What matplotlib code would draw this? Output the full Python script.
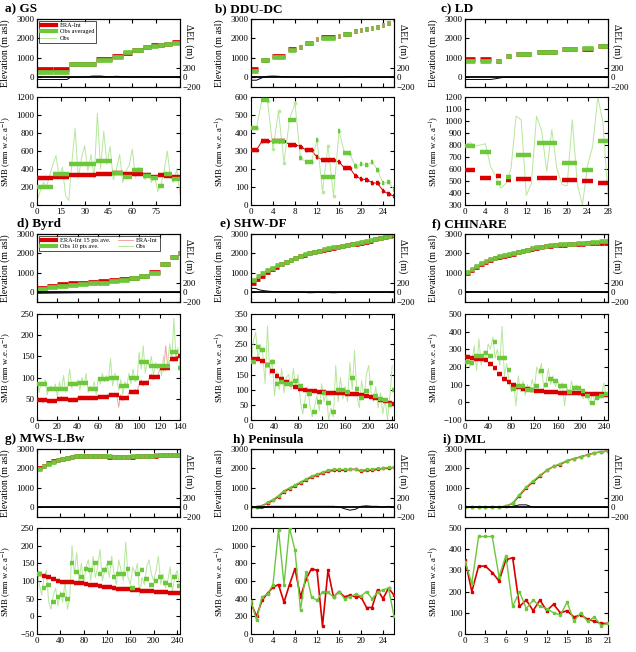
import matplotlib.pyplot as plt
from matplotlib.lines import Line2D

plt.rcParams['font.family'] = ['Liberation Serif', 'DejaVu Serif']
plt.rcParams['mathtext.fontset'] = 'stix'
plt.rcParams['font.size'] = 6.5
plt.rcParams['axes.linewidth'] = 0.8
plt.rcParams['xtick.direction'] = 'in'
plt.rcParams['ytick.direction'] = 'in'
plt.rcParams['xtick.major.size'] = 3
plt.rcParams['ytick.major.size'] = 3
plt.rcParams['xtick.major.pad'] = 2
plt.rcParams['ytick.major.pad'] = 2

RED = '#d80000'
GREEN = '#6cc83a'
LRED = '#f3a3a3'
LGREEN = '#b6e79c'

# ---------------- a) GS ----------------
a_gs = [0, 10, 20, 37, 47, 54, 60, 67, 72, 76, 80, 85]
a_ge = [10, 20, 37, 47, 54, 60, 67, 72, 76, 80, 85, 90]
a_era_smb = [305, 315, 335, 350, 355, 350, 340, 330, 315, 330, 320, 310]
a_obs_smb = [200, 340, 460, 490, 360, 310, 385, 320, 305, 215, 350, 285]
a_era_el = [430, 430, 690, 920, 1090, 1230, 1420, 1540, 1650, 1650, 1720, 1820]
a_obs_el = [270, 270, 660, 880, 1060, 1290, 1400, 1540, 1620, 1650, 1700, 1780]
a_obs_x = list(range(0, 91, 2))
a_obs_y = [50, 150, 250, 200, 330, 450, 550, 300, 420, 100,
           50, 480, 850, 300, 520, 660, 380, 560, 300, 1020,
           400, 820, 450, 650, 280, 400, 560, 250, 380, 440,
           620, 300, 420, 350, 280, 360, 250, 320, 150, 220,
           380, 600, 300, 250, 400, 120]
a_del_x = [0, 19, 21, 30, 35, 40, 45, 50, 60, 70, 80, 90]
a_del = [-45, -45, 0, 5, 25, 25, 10, 20, 5, 10, 0, 5]

# ---------------- b) DDU-DC ----------------
b_gs = [0, 2, 4, 7, 9, 10, 12, 13, 16, 17, 19, 20, 21, 22, 23, 24, 25, 26]
b_ge = [1, 3, 6, 8, 9, 11, 12, 15, 16, 18, 19, 20, 21, 22, 23, 24, 25, 26]
b_era_smb = [305, 355, 355, 335, 325, 305, 265, 250, 240, 205, 160, 145, 140, 125, 120, 80, 60, 50]
b_obs_smb = [430, 585, 355, 475, 260, 240, 360, 155, 410, 290, 215, 230, 220, 240, 195, 120, 130, 85]
b_era_el = [420, 900, 1080, 1450, 1550, 1750, 1950, 2050, 2100, 2250, 2400, 2420, 2470, 2540, 2600, 2680, 2800, 2980]
b_obs_el = [300, 880, 1060, 1430, 1550, 1740, 1950, 2040, 2100, 2230, 2390, 2420, 2460, 2530, 2600, 2670, 2800, 2980]
b_x = list(range(27))
b_obs_y = [430, 430, 585, 580, 310, 520, 235, 475, 565, 260, 240, 240, 360, 75,
           330, 50, 410, 290, 285, 210, 230, 220, 240, 195, 120, 130, 85]
b_era_y = [305, 305, 355, 355, 355, 355, 355, 335, 335, 325, 305, 305, 265, 250,
           250, 250, 240, 205, 205, 160, 145, 140, 125, 120, 80, 60, 50]
b_del_x = [0, 1, 2, 3, 4, 5, 6, 8, 10, 14, 17, 18, 19, 20, 26]
b_del = [-60, -60, -10, 20, 25, 20, 10, 5, 0, 0, 0, 15, 10, 0, 0]

# ---------------- c) LD ----------------
c_gs = [0, 3, 6, 8, 10, 14, 19, 23, 26]
c_ge = [2, 5, 7, 9, 13, 18, 22, 25, 28]
c_era_smb = [590, 525, 540, 510, 515, 525, 505, 500, 480]
c_obs_smb = [795, 740, 485, 530, 720, 820, 650, 590, 830]
c_era_el = [920, 920, 860, 1080, 1220, 1300, 1460, 1470, 1590]
c_obs_el = [820, 820, 860, 1080, 1220, 1300, 1460, 1510, 1590]
c_x = list(range(29))
c_obs_y = [800, 820, 790, 800, 810, 620, 540, 440, 480, 600, 1040, 1010, 380, 480,
           1040, 920, 580, 930, 600, 470, 460, 1010, 470, 300, 630, 790, 1200, 990, 380]
c_del_x = [0, 5, 6, 7, 8, 28]
c_del = [-45, -45, -30, -10, 0, 0]

# ---------------- d) Byrd ----------------
d_gs = [0, 10, 20, 30, 40, 50, 60, 70, 80, 90, 100, 110, 120, 130, 138]
d_ge = [10, 20, 30, 40, 50, 60, 70, 80, 90, 100, 110, 120, 130, 138, 140]
d_era_smb = [47, 45, 50, 47, 51, 53, 55, 59, 51, 67, 88, 102, 123, 145, 151]
d_obs_smb = [84, 73, 73, 86, 88, 74, 97, 100, 81, 98, 136, 127, 127, 160, 122]
d_era_el = [240, 340, 420, 455, 490, 510, 560, 610, 680, 760, 860, 1030, 1480, 1840, 2000]
d_obs_el = [150, 250, 340, 390, 430, 460, 500, 560, 630, 720, 820, 1000, 1450, 1820, 2000]
d_x = list(range(0, 141, 2))
d_obs_y = [100, 65, 90, 80, 95, 60, 75, 80, 70, 85, 55, 90, 70, 105, 65,
           80, 120, 75, 90, 85, 95, 70, 100, 80, 110, 65, 80, 70, 90, 60,
           100, 85, 110, 90, 105, 95, 145, 80, 110, 100, 70, 95, 60, 90, 80,
           110, 85, 120, 90, 95, 160, 120, 175, 110, 140, 125, 150, 105, 135, 120,
           130, 105, 150, 115, 135, 180, 140, 240, 150, 170, 120]
d_era_y = [60, 45, 50, 40, 48, 42, 48, 44, 46, 45, 52, 46, 55, 48, 50,
           45, 50, 46, 52, 44, 55, 48, 53, 50, 52, 50, 56, 52, 55, 54,
           58, 52, 57, 54, 56, 62, 56, 60, 58, 60, 30, 60, 45, 55, 50,
           65, 70, 62, 72, 68, 85, 95, 80, 92, 88, 100, 108, 95, 105, 102,
           118, 130, 115, 175, 125, 140, 150, 138, 155, 145, 150]
d_del_x = [0, 20, 40, 140]
d_del = [-20, -15, -10, -5]

# ---------------- e) SHW-DF ----------------
e_gs = list(range(0, 241, 8))
e_ge = list(range(8, 241, 8)) + [243]
e_era_smb = [201, 200, 195, 183, 163, 145, 135, 125, 118, 110, 103, 98, 97, 95, 94, 92,
             90, 88, 88, 88, 87, 86, 85, 83, 80, 77, 72, 67, 62, 57, 52]
e_obs_smb = [190, 240, 232, 180, 190, 120, 125, 118, 120, 130, 112, 45, 85, 28, 58, 90,
             55, 25, 98, 100, 92, 140, 102, 72, 97, 122, 80, 68, 65, 48, 100]
e_obs_el = [650, 850, 1010, 1150, 1270, 1380, 1480, 1580, 1680, 1780, 1870, 1950, 2020, 2090,
            2150, 2210, 2260, 2310, 2350, 2390, 2430, 2480, 2530, 2580, 2630, 2680, 2740, 2800,
            2860, 2920, 2980]
e_era_el = [480, 680, 860, 1030, 1180, 1320, 1440, 1550, 1650, 1760, 1850, 1930, 2000, 2070,
            2130, 2190, 2240, 2290, 2330, 2370, 2410, 2460, 2510, 2560, 2610, 2660, 2720, 2780,
            2840, 2900, 2960]
e_x = list(range(0, 241, 4))
e_obs_y = [170, 260, 290, 200, 250, 215, 120, 310, 150, 200, 80, 160, 100, 170, 90, 140,
           150, 100, 170, 110, 150, 60, 20, 70, 110, 50, 10, 45, 80, 30, 120, 60,
           90, 0, 40, 10, 180, 60, 140, 70, 110, 60, 190, 100, 230, 80, 40, 130,
           70, 150, 180, 90, 60, 110, 40, 90, 20, 70, 0, 80, 180]
e_del_x = [0, 8, 12, 16, 24, 32, 40, 56, 80, 100, 120, 140, 160, 243]
e_del = [80, 80, 60, 45, 30, 20, 15, 10, 5, -10, 0, -10, 0, 0]

# ---------------- f) CHINARE ----------------
f_gs = list(range(0, 241, 8))
f_ge = list(range(8, 241, 8)) + [247]
f_era_smb = [254, 250, 247, 243, 237, 215, 195, 160, 133, 115, 100, 88, 78, 74, 70, 66,
             63, 61, 59, 57, 55, 54, 53, 52, 51, 49, 48, 47, 46, 45, 44]
f_obs_smb = [228, 222, 262, 262, 278, 265, 340, 250, 250, 181, 76, 95, 90, 72, 72, 95,
             179, 97, 134, 123, 95, 95, 60, 82, 82, 63, 35, -6, 26, 35, 48]
f_obs_el = [1050, 1220, 1370, 1490, 1600, 1700, 1790, 1860, 1920, 1970, 2020, 2080, 2140,
            2200, 2260, 2310, 2350, 2390, 2420, 2440, 2460, 2480, 2500, 2510, 2520, 2540,
            2560, 2580, 2600, 2620, 2650]
f_era_el = [1000, 1170, 1320, 1450, 1560, 1660, 1750, 1830, 1890, 1940, 1990, 2050, 2110,
            2170, 2230, 2280, 2320, 2360, 2390, 2410, 2430, 2450, 2470, 2480, 2490, 2510,
            2520, 2530, 2540, 2550, 2560]
f_x = list(range(0, 245, 4))
f_obs_y = [150, 270, 200, 230, 320, 180, 360, 210, 290, 240, 330, 300, 370, 250, 300, 210,
           430, 150, 220, 120, 60, 110, -20, 150, 60, 120, 40, 100, 60, 130, 80, 200,
           160, 220, 80, 110, 190, 100, 150, 90, 130, 70, 110, -20, 90, 40, 120, 60,
           100, 40, 80, 20, 60, 30, -10, 50, 10, 60, 20, 40, 110, 30]
f_del_x = [0, 20, 60, 100, 200, 247]
f_del = [10, 5, 0, 5, 10, 0]

# ---------------- g) MWS-LBw ----------------
g_gs = list(range(0, 241, 8))
g_ge = list(range(8, 241, 8)) + [245]
g_era_smb = [120, 115, 110, 105, 100, 98, 97, 96, 95, 94, 92, 90, 88, 86, 84, 82,
             80, 78, 77, 76, 75, 74, 73, 72, 71, 70, 69, 68, 67, 66, 65]
g_obs_smb = [120, 80, 90, 40, 55, 60, 50, 150, 125, 110, 135, 130, 150, 120, 130, 150,
             110, 120, 120, 135, 80, 120, 130, 105, 90, 100, 110, 95, 90, 110, 85]
g_obs_el = [1950, 2100, 2250, 2350, 2430, 2500, 2550, 2600, 2620, 2640, 2650, 2660, 2650,
            2640, 2630, 2620, 2610, 2600, 2600, 2610, 2620, 2630, 2640, 2650, 2660, 2670,
            2680, 2690, 2700, 2700, 2700]
g_era_el = [2000, 2130, 2270, 2370, 2450, 2510, 2560, 2600, 2620, 2630, 2640, 2640, 2640,
            2630, 2620, 2610, 2600, 2600, 2600, 2600, 2610, 2620, 2630, 2640, 2650, 2660,
            2670, 2680, 2690, 2690, 2690]
g_x = list(range(0, 245, 4))
g_obs_y = [150, 90, 60, 110, 130, 40, 20, 60, 80, 30, 70, 40, 100, 20, 50, 200,
           120, 180, 100, 150, 90, 140, 160, 100, 170, 110, 140, 190, 100, 130, 150, 110,
           170, 120, 90, 160, 130, 100, 210, 110, 90, 140, 120, 150, 60, 110, 90, 140,
           160, 120, 100, 130, 170, 90, 120, 80, 100, 140, 70, 110, 130, 90]
g_del_x = [0, 40, 80, 120, 160, 200, 245]
g_del = [0, 5, 0, 5, 0, 5, 0]

# ---------------- h) Peninsula ----------------
h_x = list(range(27))
h_era_el = [0, 30, 80, 200, 350, 550, 800, 950, 1100, 1250, 1400, 1550, 1650, 1750,
            1850, 1900, 1900, 1900, 1950, 1950, 1850, 1900, 1900, 1950, 2000, 2000, 2050]
h_obs_el = [0, 20, 60, 250, 400, 600, 850, 1000, 1150, 1300, 1450, 1600, 1700, 1800,
            1900, 1950, 1950, 1950, 1950, 1950, 1900, 1950, 1950, 2000, 2000, 2050, 2050]
h_era_smb = [350, 200, 380, 460, 530, 560, 360, 560, 740, 420, 620, 740, 720, 90,
             720, 420, 480, 420, 440, 420, 420, 300, 300, 500, 400, 520, 440]
h_obs_smb = [370, 160, 420, 450, 560, 1180, 560, 1200, 950, 270, 700, 420, 380, 480,
             470, 420, 480, 400, 420, 450, 430, 480, 400, 470, 500, 520, 200]
h_del = [0, -10, -20, 20, 20, 20, 20, 20, 20, 20, 20, 20, 20, 20,
         20, 20, 10, -30, -60, -40, 20, 30, 20, 20, 0, 20, 0]

# ---------------- i) DML ----------------
i_x = list(range(22))
i_era_el = [0, 0, 0, 0, 0, 20, 50, 200, 600, 1000, 1300, 1600, 1900, 2100, 2200, 2400,
            2500, 2600, 2700, 2800, 2850, 2900]
i_obs_el = [0, 0, 0, 0, 0, 20, 50, 220, 650, 1050, 1350, 1650, 1900, 2100, 2250, 2400,
            2500, 2600, 2700, 2800, 2850, 2900]
i_era_smb = [350, 200, 320, 320, 290, 250, 350, 360, 130, 160, 110, 160, 110, 140, 100,
             110, 80, 90, 70, 60, 50, 50]
i_obs_smb = [340, 240, 460, 460, 460, 270, 370, 130, 200, 120, 160, 130, 120, 100, 90,
             150, 60, 100, 60, 80, 40, 50]
i_del = [0, 0, 0, 0, 0, 0, 0, 20, 50, 50, 0, 0, 0, 0, 0, 0, 0, 0, 0, 0, 0, 0]

W, H = 636, 652
COL_X = [37, 251, 465]
COL_W = 143
EL_TOP = [19, 234, 449]
EL_H = 68
SMB_TOP = [97, 314, 528]
SMB_H = [108, 106, 106]
TICK_FS = 6.5

fig = plt.figure(figsize=(W / 100, H / 100), dpi=100)


def make_axes(col, row):
    x0 = COL_X[col] / W
    w = COL_W / W
    ax_el = fig.add_axes([x0, 1 - (EL_TOP[row] + EL_H) / H, w, EL_H / H])
    ax_smb = fig.add_axes([x0, 1 - (SMB_TOP[row] + SMB_H[row]) / H, w, SMB_H[row] / H])
    return ax_el, ax_smb


def style_axes(ax_el, ax, xmax, xticks, ylim, yticks):
    for a in (ax_el, ax):
        a.set_xlim(0, xmax)
        a.set_xticks(xticks)
        a.tick_params(top=True, right=True, labelsize=TICK_FS)
    ax_el.tick_params(labelbottom=False)
    ax_el.set_ylim(-500, 3000)
    ax_el.set_yticks([0, 1000, 2000, 3000])
    ax_el.set_ylabel('Elevation (m asl)', fontsize=7)
    ax_el.yaxis.set_label_coords(-0.19, 0.5)
    ax.set_ylim(*ylim)
    ax.set_yticks(yticks)
    ax.set_ylabel('SMB (mm w.e. a$^{-1}$)', fontsize=6.2)
    ax.yaxis.set_label_coords(-0.165, 0.5)


def add_delta(ax_el, dx, dy):
    tw = ax_el.twinx()
    tw.set_ylim(-200, 1200)
    tw.set_yticks([-200, 0, 200])
    tw.tick_params(direction='in', labelsize=TICK_FS)
    tw.axhline(0, color='k', lw=1.3)
    tw.plot(dx, dy, color='k', lw=0.7)
    ax_el.text(1.03, 0.68, 'ΔEL (m)', transform=ax_el.transAxes, rotation=-90,
               ha='left', va='center', fontsize=7)


def add_title(row, tx, title):
    fig.text(tx / W, 1 - (EL_TOP[row] - 10) / H, title, fontsize=9.5,
             fontweight='bold', va='center', ha='left')


def panel(col, row, title, tx, xmax, xticks, ylim, yticks,
          gs, ge, era_el, obs_el, era_smb, obs_smb, dx, dy,
          ox=None, oy=None, ex=None, ey=None, pts=False):
    ax_el, ax = make_axes(col, row)
    pad = 0.25 if pts else 0
    lo = [s - pad for s in gs]
    hi = [e + pad for e in ge]
    ax_el.hlines(era_el, lo, hi, color=RED, lw=3.4, zorder=3)
    ax_el.hlines(obs_el, lo, hi, color=GREEN, lw=3.4, zorder=3)
    if ex is not None:
        ax.plot(ex, ey, color=RED if pts else LRED, lw=0.7,
                marker='o' if pts else None, ms=1.6, zorder=2)
    if ox is not None:
        ax.plot(ox, oy, color=LGREEN, lw=0.7,
                marker='o' if pts else None, ms=1.6, zorder=2)
    ax.hlines(era_smb, lo, hi, color=RED, lw=3.2, zorder=3)
    ax.hlines(obs_smb, lo, hi, color=GREEN, lw=3.2, zorder=4)
    style_axes(ax_el, ax, xmax, xticks, ylim, yticks)
    add_delta(ax_el, dx, dy)
    add_title(row, tx, title)
    return ax_el, ax


def point_panel(col, row, title, tx, xs, xmax, xticks, ylim, yticks,
                era_el, obs_el, era_smb, obs_smb, dl):
    ax_el, ax = make_axes(col, row)
    ax_el.plot(xs, era_el, color=RED, lw=1.0, marker='s', ms=2, zorder=3)
    ax_el.plot(xs, obs_el, color=GREEN, lw=1.0, marker='s', ms=2, zorder=3)
    ax.plot(xs, era_smb, color=RED, lw=1.2, marker='s', ms=2, zorder=3)
    ax.plot(xs, obs_smb, color=GREEN, lw=1.0, marker='s', ms=2, zorder=3)
    style_axes(ax_el, ax, xmax, xticks, ylim, yticks)
    add_delta(ax_el, xs, dl)
    add_title(row, tx, title)
    return ax_el, ax


ax_a, _ = panel(0, 0, 'a) GS', 5, 90, [0, 15, 30, 45, 60, 75], (0, 1200),
                [0, 200, 400, 600, 800, 1000, 1200],
                a_gs, a_ge, a_era_el, a_obs_el, a_era_smb, a_obs_smb, a_del_x, a_del,
                ox=a_obs_x, oy=a_obs_y)
ax_a.legend([Line2D([], [], color=RED, lw=3), Line2D([], [], color=GREEN, lw=3),
             Line2D([], [], color=LGREEN, lw=0.7)],
            ['ERA-Int', 'Obs averaged', 'Obs'], loc='upper left', fontsize=4.5,
            frameon=True, fancybox=False, edgecolor='k', handlelength=2.5,
            borderpad=0.3, labelspacing=0.15, handletextpad=0.5,
            borderaxespad=0.3).get_frame().set_linewidth(0.6)

panel(1, 0, 'b) DDU-DC', 215, 26, [0, 4, 8, 12, 16, 20, 24], (0, 600),
      [0, 100, 200, 300, 400, 500, 600],
      b_gs, b_ge, b_era_el, b_obs_el, b_era_smb, b_obs_smb, b_del_x, b_del,
      ox=b_x, oy=b_obs_y, ex=b_x, ey=b_era_y, pts=True)

panel(2, 0, 'c) LD', 441, 28, [0, 4, 8, 12, 16, 20, 24, 28], (300, 1200),
      [300, 400, 500, 600, 700, 800, 900, 1000, 1100, 1200],
      c_gs, c_ge, c_era_el, c_obs_el, c_era_smb, c_obs_smb, c_del_x, c_del,
      ox=c_x, oy=c_obs_y)

ax_d, _ = panel(0, 1, 'd) Byrd', 17, 140, [0, 20, 40, 60, 80, 100, 120, 140], (0, 250),
                [0, 50, 100, 150, 200, 250],
                d_gs, d_ge, d_era_el, d_obs_el, d_era_smb, d_obs_smb, d_del_x, d_del,
                ox=d_x, oy=d_obs_y, ex=d_x, ey=d_era_y)
ax_d.legend([Line2D([], [], color=RED, lw=3), Line2D([], [], color=GREEN, lw=3),
             Line2D([], [], color=LRED, lw=0.7), Line2D([], [], color=LGREEN, lw=0.7)],
            ['ERA-Int 15 pts ave.', 'Obs 10 pts ave.', 'ERA-Int', 'Obs'],
            loc='upper left', ncol=2, fontsize=4.5, frameon=True, fancybox=False,
            edgecolor='k', handlelength=2.5, borderpad=0.3, labelspacing=0.15,
            handletextpad=0.5, columnspacing=1.2,
            borderaxespad=0.3).get_frame().set_linewidth(0.6)

panel(1, 1, 'e) SHW-DF', 220, 243, [0, 40, 80, 120, 160, 200, 240], (0, 350),
      [0, 50, 100, 150, 200, 250, 300, 350],
      e_gs, e_ge, e_era_el, e_obs_el, e_era_smb, e_obs_smb, e_del_x, e_del,
      ox=e_x, oy=e_obs_y)

panel(2, 1, 'f) CHINARE', 432, 247, [0, 40, 80, 120, 160, 200, 240], (-100, 500),
      [-100, 0, 100, 200, 300, 400, 500],
      f_gs, f_ge, f_era_el, f_obs_el, f_era_smb, f_obs_smb, f_del_x, f_del,
      ox=f_x, oy=f_obs_y)

panel(0, 2, 'g) MWS-LBw', 5, 245, [0, 40, 80, 120, 160, 200, 240], (-50, 250),
      [-50, 0, 50, 100, 150, 200, 250],
      g_gs, g_ge, g_era_el, g_obs_el, g_era_smb, g_obs_smb, g_del_x, g_del,
      ox=g_x, oy=g_obs_y)

point_panel(1, 2, 'h) Peninsula', 233, h_x, 26, [0, 4, 8, 12, 16, 20, 24], (0, 1200),
            [0, 200, 400, 600, 800, 1000, 1200],
            h_era_el, h_obs_el, h_era_smb, h_obs_smb, h_del)

point_panel(2, 2, 'i) DML', 443, i_x, 21, [0, 3, 6, 9, 12, 15, 18, 21], (0, 500),
            [0, 100, 200, 300, 400, 500],
            i_era_el, i_obs_el, i_era_smb, i_obs_smb, i_del)

fig.savefig('out.png', dpi=100)
